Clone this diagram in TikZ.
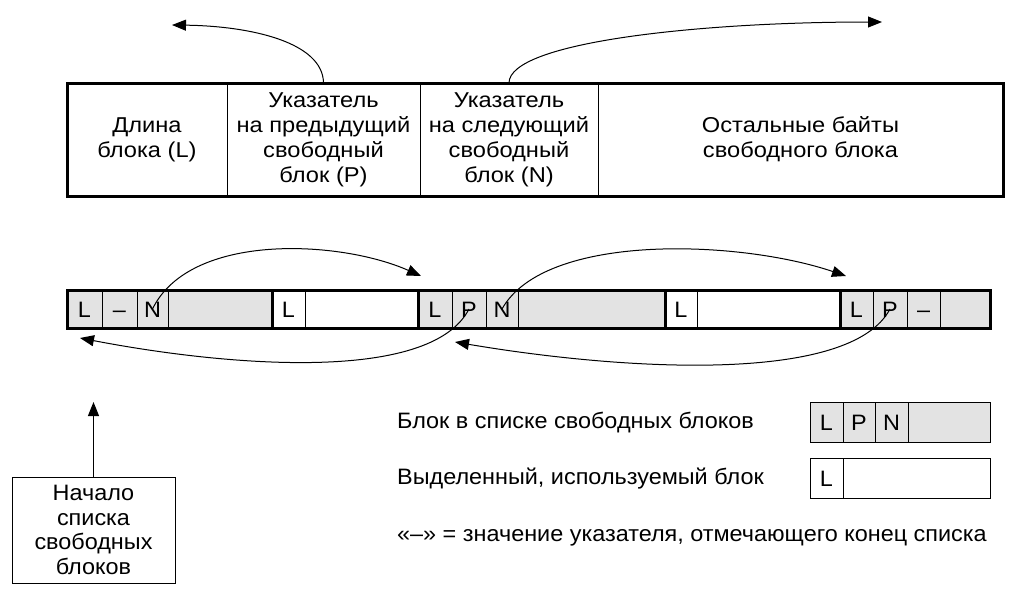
\documentclass[tikz,border=0pt]{standalone}
\usepackage{fontspec}
\setmainfont{Liberation Sans}[FakeStretch=1.05]
\newfontfamily\boxfont{Liberation Sans}[FakeStretch=1.1]
\usetikzlibrary{arrows.meta,positioning}

\definecolor{blockgray}{HTML}{E3E3E3}

\tikzset{
  cell/.style={draw, line width=1pt, minimum height=38pt, inner sep=0pt, outer sep=0pt, anchor=west,
    text height=16pt, text depth=0pt},
  free/.style={cell, fill=blockgray},
  used/.style={cell, fill=white},
  field/.style={draw, line width=1pt, minimum height=113pt, inner sep=0pt, outer sep=0pt, anchor=west,
    align=center, font=\boxfont\fontsize{21.5}{25}\selectfont},
  legend/.style={anchor=base west, inner sep=0pt}
}
\newcommand{\nullptr}{--}

\begin{document}
\begin{tikzpicture}[x=1pt,y=-1pt,>={Triangle[length=14pt,width=11pt]},
    font=\fontsize{22.3}{24.7}\selectfont]
  \useasboundingbox (0,0) rectangle (1020,603);

  % layout of a free block
  \node[field, minimum width=160pt] (fL) at (67,139.5) {Длина\\блока (L)};
  \node[field, minimum width=193pt, right=0pt of fL] (fP) {Указатель\\на предыдущий\\свободный\\блок (P)};
  \node[field, minimum width=178pt, right=0pt of fP] (fN) {Указатель\\на следующий\\свободный\\блок (N)};
  \node[field, minimum width=405pt, right=0pt of fN] (fR) {Остальные байты\\свободного блока};
  \draw[line width=3pt] (fL.north west) rectangle (fR.south east);

  \coordinate (prevEnd) at (172,25);
  \coordinate (nextEnd) at (882,22);
  \draw[->, line width=1pt] (fP.north) .. controls (323,42) and (250,26) .. (prevEnd);
  \draw[->, line width=1pt] (fN.north) .. controls (509,42) and (700,22) .. (nextEnd);

  % memory
  \node[free, minimum width=35pt] (aL) at (67,309) {L};
  \node[free, minimum width=35pt, right=0pt of aL] (aP) {\nullptr};
  \node[free, minimum width=31pt, right=0pt of aP] (aN) {N};
  \node[free, minimum width=104pt, right=0pt of aN] (aR) {};
  \node[used, minimum width=33pt, right=0pt of aR] (bL) {L};
  \node[used, minimum width=113pt, right=0pt of bL] (bR) {};
  \node[free, minimum width=34pt, right=0pt of bR] (cL) {L};
  \node[free, minimum width=34pt, right=0pt of cL] (cP) {P};
  \node[free, minimum width=32pt, right=0pt of cP] (cN) {N};
  \node[free, minimum width=147pt, right=0pt of cN] (cR) {};
  \node[used, minimum width=32pt, right=0pt of cR] (dL) {L};
  \node[used, minimum width=143pt, right=0pt of dL] (dR) {};
  \node[free, minimum width=33pt, right=0pt of dR] (eL) {L};
  \node[free, minimum width=34pt, right=0pt of eL] (eP) {P};
  \node[free, minimum width=33pt, right=0pt of eP] (eN) {\nullptr};
  \node[free, minimum width=50pt, right=0pt of eN] (eR) {};
  \draw[line width=3pt] (aL.north west) rectangle (eR.south east);
  \foreach \blk in {bL,cL,dL,eL}
    \draw[line width=3pt] (\blk.north west) -- (\blk.south west);

  \coordinate (cIn) at (421,276);
  \coordinate (eIn) at (846,276);
  \coordinate (aIn) at (80,338);
  \coordinate (cBack) at (455,342);
  \draw[->, line width=1pt] (aN.center) .. controls (190,232) and (340,240) .. (cIn);
  \draw[->, line width=1pt] (cN.center) .. controls (545,232) and (740,240) .. (eIn);
  \draw[->, line width=1pt] (cP.center) .. controls (430,385) and (220,365) .. (aIn);
  \draw[->, line width=1pt] (eP.center) .. controls (850,385) and (620,370) .. (cBack);

  % list head
  \node[draw, line width=1pt, align=center, minimum width=163pt, minimum height=106pt, inner sep=0pt]
    (head) at (93.5,530) {Начало\\списка\\свободных\\блоков};
  \coordinate (headTip) at (93.5,402);
  \draw[->, line width=1pt] (head.north) -- (headTip);

  % legend
  \node[free, minimum width=33pt, minimum height=40pt] (gL) at (810,422) {L};
  \node[free, minimum width=32pt, minimum height=40pt, right=0pt of gL] (gP) {P};
  \node[free, minimum width=33pt, minimum height=40pt, right=0pt of gP] (gN) {N};
  \node[free, minimum width=82pt, minimum height=40pt, right=0pt of gN] (gR) {};
  \node[used, minimum width=33pt, minimum height=40pt] (uL) at (810,478) {L};
  \node[used, minimum width=147pt, minimum height=40pt, right=0pt of uL] (uR) {};

  \node[legend] (freeText) at (397,428) {Блок в списке свободных блоков};
  \node[legend] (usedText) at (397,484) {Выделенный, используемый блок};
  \node[legend] (endText) at (397,541) {«--» = значение указателя, отмечающего конец списка};
\end{tikzpicture}
\end{document}
